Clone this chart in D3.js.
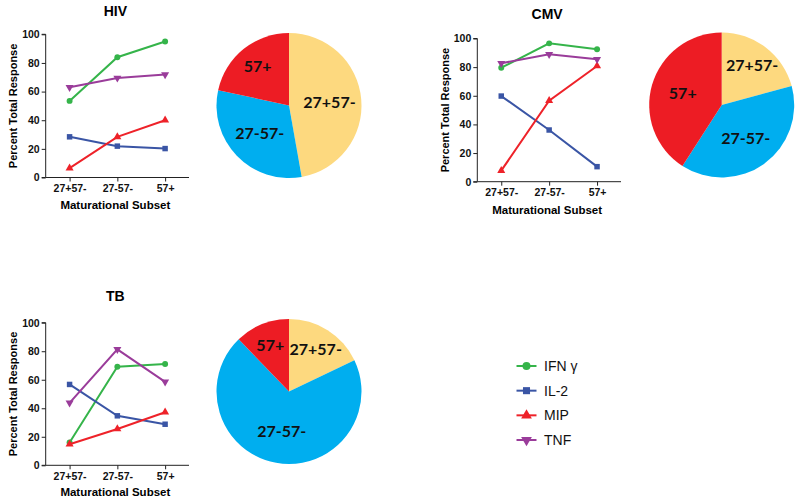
<!DOCTYPE html>
<html><head><meta charset="utf-8">
<script src="https://cdn.jsdelivr.net/npm/d3@7"></script>
<style>body{margin:0;background:#fff;} svg{display:block;}</style>
</head><body>
<script>
// ---- data ----
const subsets = ["27+57-", "27-57-", "57+"];
const cytokines = ["IFN γ", "IL-2", "MIP", "TNF"];
const yTicks = [0, 20, 40, 60, 80, 100];

const hivIFN = [53.5, 84, 95];
const hivIL2 = [28.4, 21.9, 20.2];
const hivMIP = [6.5, 28.4, 40];
const hivTNF = [63, 69.5, 71.9];

const cmvIFN = [79.6, 96.6, 92.5];
const cmvIL2 = [59.8, 36.1, 10.5];
const cmvMIP = [7.7, 56.6, 80.8];
const cmvTNF = [82.7, 89, 85.5];

const tbIFN = [16, 69.1, 71];
const tbIL2 = [56.7, 34.7, 28.8];
const tbMIP = [14.8, 25.5, 37.2];
const tbTNF = [43.8, 81.3, 58.5];

const hivPie = [47.2, 31.2, 21.6];
const cmvPie = [20.8, 38.3, 40.9];
const tbPie = [17.9, 69.9, 12.2];

// ---- styles / layout ----
const lineColors = ["#35b44a", "#3a55a5", "#ee2229", "#9a3c9a"];
const markerTypes = [d3.symbolCircle, d3.symbolSquare, d3.symbolTriangle, "down"];
const pieColors = ["#fdd97f", "#00aeef", "#ed1c24"];

const panels = [
  {title: "HIV", series: [hivIFN, hivIL2, hivMIP, hivTNF], x0: 45.7, x1: 189, yBot: 177.5, yTop: 34.3, titleY: 16, xlabY: 208.5, ylabX: 13},
  {title: "CMV", series: [cmvIFN, cmvIL2, cmvMIP, cmvTNF], x0: 477.3, x1: 621, yBot: 181.7, yTop: 38.5, titleY: 19, xlabY: 214, ylabX: 445},
  {title: "TB", series: [tbIFN, tbIL2, tbMIP, tbTNF], x0: 45.7, x1: 189, yBot: 465.3, yTop: 322.7, titleY: 301, xlabY: 496, ylabX: 13}
];
const pies = [
  {data: hivPie, cx: 289, cy: 105.5, r: 72.5},
  {data: cmvPie, cx: 721.7, cy: 105, r: 72.5},
  {data: tbPie, cx: 289, cy: 391.5, r: 72.5}
];

const svg = d3.select("body").append("svg").attr("width", 800).attr("height", 500);
const FONT = "'Liberation Sans', Arial, sans-serif";

function symbolPath(type, size) {
  if (type === "down") {
    return d3.symbol().type(d3.symbolTriangle).size(size)();
  }
  return d3.symbol().type(type).size(size)();
}

panels.forEach(p => {
  const g = svg.append("g");
  const x = d3.scalePoint().domain(subsets).range([p.x0, p.x1]).padding(0.5);
  const y = d3.scaleLinear().domain([0, 100]).range([p.yBot, p.yTop]);

  // axes
  const yAxis = g.append("g").attr("transform", `translate(${p.x0},0)`)
    .call(d3.axisLeft(y).tickValues(yTicks).tickSize(4).tickPadding(2));
  const xAxis = g.append("g").attr("transform", `translate(0,${p.yBot})`)
    .call(d3.axisBottom(x).tickSize(4).tickPadding(3).tickSizeOuter(0));
  [yAxis, xAxis].forEach(a => {
    a.selectAll("path,line").attr("stroke", "#222").attr("stroke-width", 1);
    a.selectAll("text").attr("font-family", FONT).attr("font-weight", "bold")
      .attr("font-size", 10.5).attr("fill", "#111");
  });
  yAxis.select("path").attr("d", `M-4,${y(100)}H0V${y(0)}H-4`);
  xAxis.select("path").attr("d", `M${p.x0},0H${p.x1}`);

  // title & axis labels
  g.append("text").attr("x", (p.x0 + p.x1) / 2 - 2).attr("y", p.titleY)
    .attr("text-anchor", "middle").attr("font-family", FONT).attr("font-weight", "bold")
    .attr("font-size", 14).text(p.title);
  g.append("text").attr("x", (p.x0 + p.x1) / 2 - 2).attr("y", p.xlabY)
    .attr("text-anchor", "middle").attr("font-family", FONT).attr("font-weight", "bold")
    .attr("font-size", 11.5).text("Maturational Subset");
  g.append("text").attr("transform", `translate(${p.ylabX},${(p.yTop + p.yBot) / 2}) rotate(-90)`)
    .attr("text-anchor", "middle").attr("dy", "0.35em").attr("font-family", FONT).attr("font-weight", "bold")
    .attr("font-size", 11).text("Percent Total Response");

  // lines
  const line = d3.line().x((d, i) => x(subsets[i])).y(d => y(d));
  p.series.forEach((s, k) => {
    g.append("path").datum(s).attr("d", line).attr("fill", "none")
      .attr("stroke", lineColors[k]).attr("stroke-width", 2);
    g.selectAll(null).data(s).enter().append("path")
      .attr("d", symbolPath(markerTypes[k], k === 1 ? 30 : 28))
      .attr("transform", (d, i) => `translate(${x(subsets[i])},${y(d)})` + (markerTypes[k] === "down" ? " rotate(180)" : ""))
      .attr("fill", lineColors[k]);
  });
});

// pies
pies.forEach(pp => {
  const g = svg.append("g").attr("transform", `translate(${pp.cx},${pp.cy})`);
  const arcs = d3.pie().sort(null).value(d => d)(pp.data);
  const arc = d3.arc().innerRadius(0).outerRadius(pp.r);
  g.selectAll("path.s").data(arcs).enter().append("path")
    .attr("d", arc).attr("fill", (d, i) => pieColors[i]);
  g.selectAll("text").data(arcs).enter().append("text")
    .attr("transform", d => {
      const frac = (d.endAngle - d.startAngle) / (2 * Math.PI);
      const rr = pp.r * (frac < 0.25 ? 0.69 : 0.56);
      const la = d3.arc().innerRadius(rr).outerRadius(rr);
      const c = la.centroid(d);
      return `translate(${c[0]},${c[1]})`;
    })
    .attr("text-anchor", "middle").attr("dy", "0.36em")
    .attr("font-family", "Lato, 'Open Sans', sans-serif").attr("font-weight", "bold")
    .attr("font-size", 16).attr("fill", "#111")
    .text((d, i) => subsets[i]);
});

// legend
const leg = svg.append("g");
const legY = d3.scalePoint().domain(cytokines).range([366, 440]);
cytokines.forEach((c, k) => {
  const yy = legY(c);
  leg.append("line").attr("x1", 516.5).attr("x2", 536.5).attr("y1", yy).attr("y2", yy)
    .attr("stroke", lineColors[k]).attr("stroke-width", 2);
  leg.append("path").attr("d", symbolPath(markerTypes[k], 50))
    .attr("transform", `translate(526.5,${yy})` + (markerTypes[k] === "down" ? " rotate(180)" : ""))
    .attr("fill", lineColors[k]);
  leg.append("text").attr("x", 544).attr("y", yy).attr("dy", "0.36em")
    .attr("font-family", FONT).attr("font-size", 14).attr("fill", "#111").text(c);
});
</script>
</body></html>
